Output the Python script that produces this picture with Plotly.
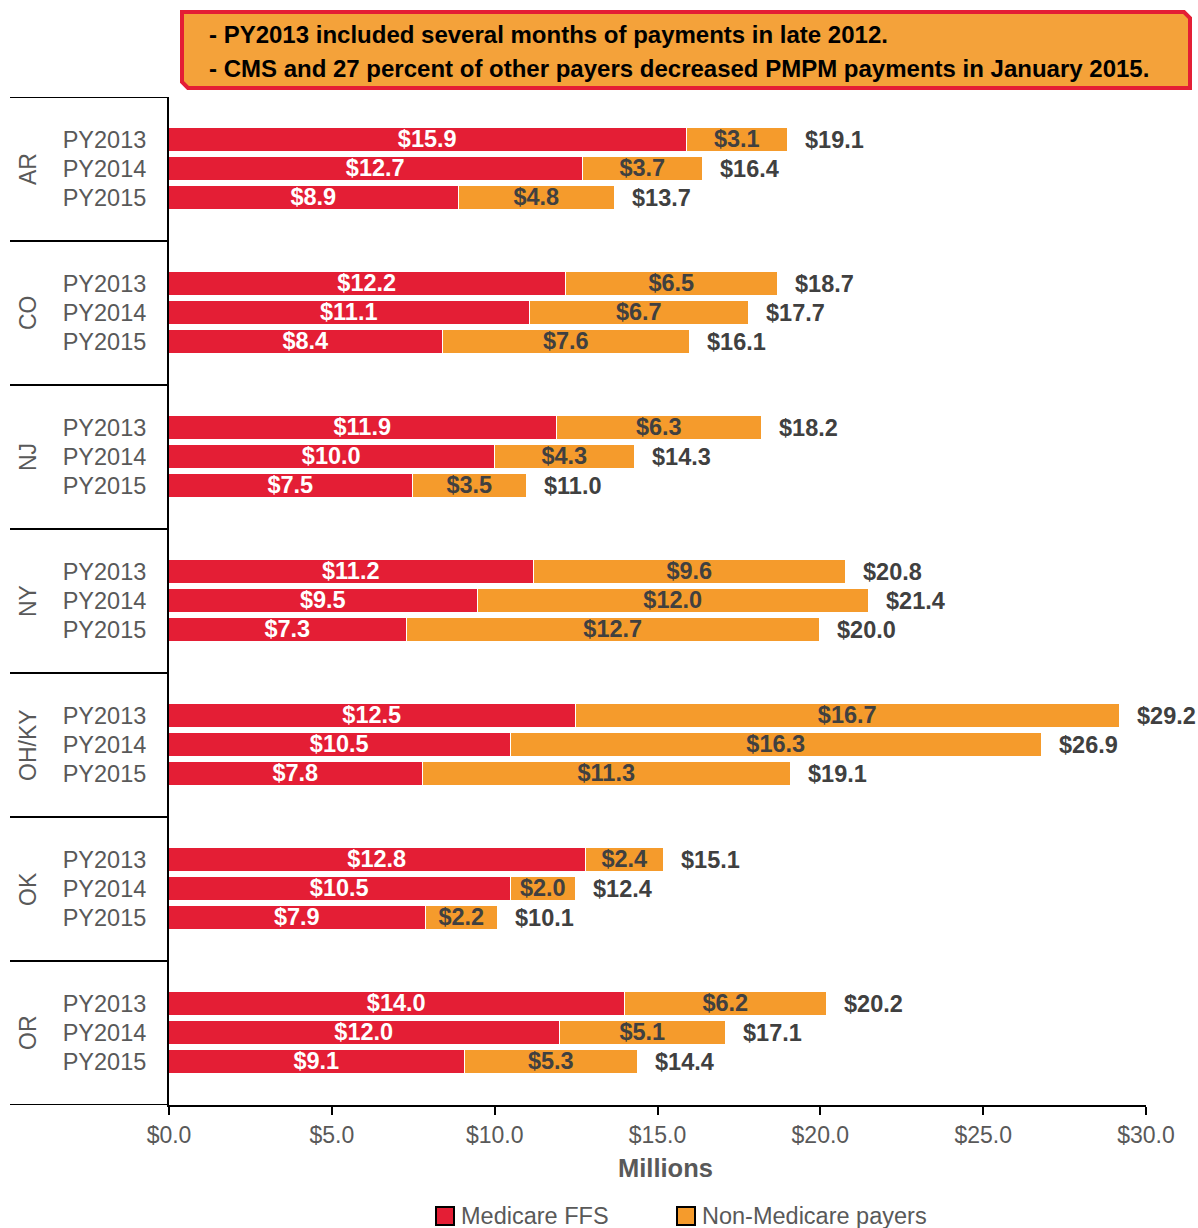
import plotly.graph_objects as go

# Payments by state and performance year (millions of dollars)
states = ["AR", "CO", "NJ", "NY", "OH/KY", "OK", "OR"]
years = ["PY2013", "PY2014", "PY2015"]
medicare_ffs = [
    [15.9, 12.7, 8.9],
    [12.2, 11.1, 8.4],
    [11.9, 10.0, 7.5],
    [11.2, 9.5, 7.3],
    [12.5, 10.5, 7.8],
    [12.8, 10.5, 7.9],
    [14.0, 12.0, 9.1],
]
non_medicare = [
    [3.1, 3.7, 4.8],
    [6.5, 6.7, 7.6],
    [6.3, 4.3, 3.5],
    [9.6, 12.0, 12.7],
    [16.7, 16.3, 11.3],
    [2.4, 2.0, 2.2],
    [6.2, 5.1, 5.3],
]
totals = [
    [19.1, 16.4, 13.7],
    [18.7, 17.7, 16.1],
    [18.2, 14.3, 11.0],
    [20.8, 21.4, 20.0],
    [29.2, 26.9, 19.1],
    [15.1, 12.4, 10.1],
    [20.2, 17.1, 14.4],
]
series_names = ["Medicare FFS", "Non-Medicare payers"]
x_ticks = [0, 5, 10, 15, 20, 25, 30]
notes = [
    "- PY2013 included several months of payments in late 2012.",
    "- CMS and 27 percent of other payers decreased PMPM payments in January 2015.",
]

RED = "#E41E35"
ORANGE = "#F59B2C"
BOX_FILL = "#F4A23A"
DARK = "#404040"
GRAY = "#595959"
FONT = "Liberation Sans, Arial, sans-serif"

W, H = 1198, 1228
L, R, T, B = 169, 52, 97, 123
PW, PH = W - L - R, H - T - B
SLOTS = 5  # slots per state group; rows occupy the middle three


def px_x(p):
    return (p - L) / PW


def px_y(p):
    return 1 - (p - T) / PH


ypos, ylab, ffs, non, tot = [], [], [], [], []
for g, st in enumerate(states):
    for j, yr in enumerate(years):
        ypos.append(g * SLOTS + 1.5 + j)
        ylab.append(yr)
        ffs.append(medicare_ffs[g][j])
        non.append(non_medicare[g][j])
        tot.append(totals[g][j])

fig = go.Figure()
fig.add_trace(go.Bar(
    y=ypos, x=ffs, orientation="h", name=series_names[0], showlegend=False,
    marker=dict(color=RED, line=dict(color="white", width=1.5)),
    text=[f"${v:.1f}" for v in ffs], textposition="inside",
    insidetextanchor="middle", constraintext="none",
    textfont=dict(family=FONT, size=23.5, color="white", weight="bold"),
    width=0.84,
))
fig.add_trace(go.Bar(
    y=ypos, x=non, orientation="h", name=series_names[1], showlegend=False,
    marker=dict(color=ORANGE, line=dict(color="white", width=1.5)),
    text=[f"${v:.1f}" for v in non], textposition="inside",
    insidetextanchor="middle", constraintext="none",
    textfont=dict(family=FONT, size=23.5, color=DARK, weight="bold"),
    width=0.84,
))

annotations = []
for y, a, b, t in zip(ypos, ffs, non, tot):
    annotations.append(dict(
        x=a + b, y=y, xref="x", yref="y", text=f"<b>${t:.1f}</b>",
        showarrow=False, xanchor="left", yanchor="middle", xshift=15,
        font=dict(family=FONT, size=23.5, color=DARK),
    ))

shapes = []
for g, st in enumerate(states):
    annotations.append(dict(
        x=px_x(28), y=g * SLOTS + SLOTS / 2, xref="paper", yref="y",
        text=st, textangle=-90, showarrow=False,
        xanchor="center", yanchor="middle",
        font=dict(family=FONT, size=23, color=GRAY),
    ))
for g in range(len(states) + 1):
    shapes.append(dict(
        type="line", xref="paper", yref="y", x0=px_x(10), x1=0,
        y0=g * SLOTS, y1=g * SLOTS, line=dict(color="black", width=2),
    ))

# axis title
annotations.append(dict(
    x=px_x(665), y=px_y(1168), xref="paper", yref="paper",
    text="<b>Millions</b>", showarrow=False, xanchor="center", yanchor="middle",
    font=dict(family=FONT, size=25.5, color=GRAY),
))

# legend: outlined square swatches with labels
for (x_sw, col), nm in zip([(435, RED), (676, ORANGE)], series_names):
    shapes.append(dict(
        type="rect", xref="paper", yref="paper",
        x0=px_x(x_sw + 1), x1=px_x(x_sw + 19), y0=px_y(1207), y1=px_y(1225),
        fillcolor=col, line=dict(color="black", width=2),
    ))
    annotations.append(dict(
        x=px_x(x_sw + 24), y=px_y(1216), xref="paper", yref="paper",
        text=nm, showarrow=False, xanchor="left", yanchor="middle",
        font=dict(family=FONT, size=23.5, color=GRAY),
    ))

# note box with clipped corners
x0, x1, y0, y1, c = px_x(182), px_x(1190), px_y(12), px_y(88), 6
cx, cy = c / PW, c / PH
box_path = (
    f"M {x0},{y0} L {x1 - cx},{y0} L {x1},{y0 - cy} L {x1},{y1} "
    f"L {x0 + cx},{y1} L {x0},{y1 + cy} Z"
)
shapes.append(dict(
    type="path", xref="paper", yref="paper", path=box_path,
    fillcolor=BOX_FILL, line=dict(color=RED, width=4), layer="above",
))
for i, line in enumerate(notes):
    annotations.append(dict(
        x=px_x(207), y=px_y(34 + 34 * i), xref="paper", yref="paper",
        text=f"<b>{line}</b>", showarrow=False, xanchor="left",
        yanchor="middle", font=dict(family=FONT, size=24, color="black"),
    ))

fig.update_layout(
    width=W, height=H, barmode="stack", bargap=0, showlegend=False,
    margin=dict(l=L, r=R, t=T, b=B, autoexpand=False),
    plot_bgcolor="white", paper_bgcolor="white",
    font=dict(family=FONT, color=GRAY, size=20),
    xaxis=dict(
        range=[0, 30], tickvals=x_ticks, ticktext=[f"${v:.1f}" for v in x_ticks],
        showgrid=False, zeroline=False, showline=True, linecolor="black",
        linewidth=2, ticks="outside", ticklen=8, tickwidth=2, tickcolor="black",
        tickfont=dict(family=FONT, size=23, color=GRAY),
    ),
    yaxis=dict(
        range=[len(states) * SLOTS, 0], tickvals=ypos, ticktext=ylab,
        showgrid=False, zeroline=False, showline=True, linecolor="black",
        linewidth=2, ticks="", ticklabelstandoff=16,
        tickfont=dict(family=FONT, size=23.5, color=GRAY),
    ),
    annotations=annotations, shapes=shapes,
)

fig.write_html("out.html")
